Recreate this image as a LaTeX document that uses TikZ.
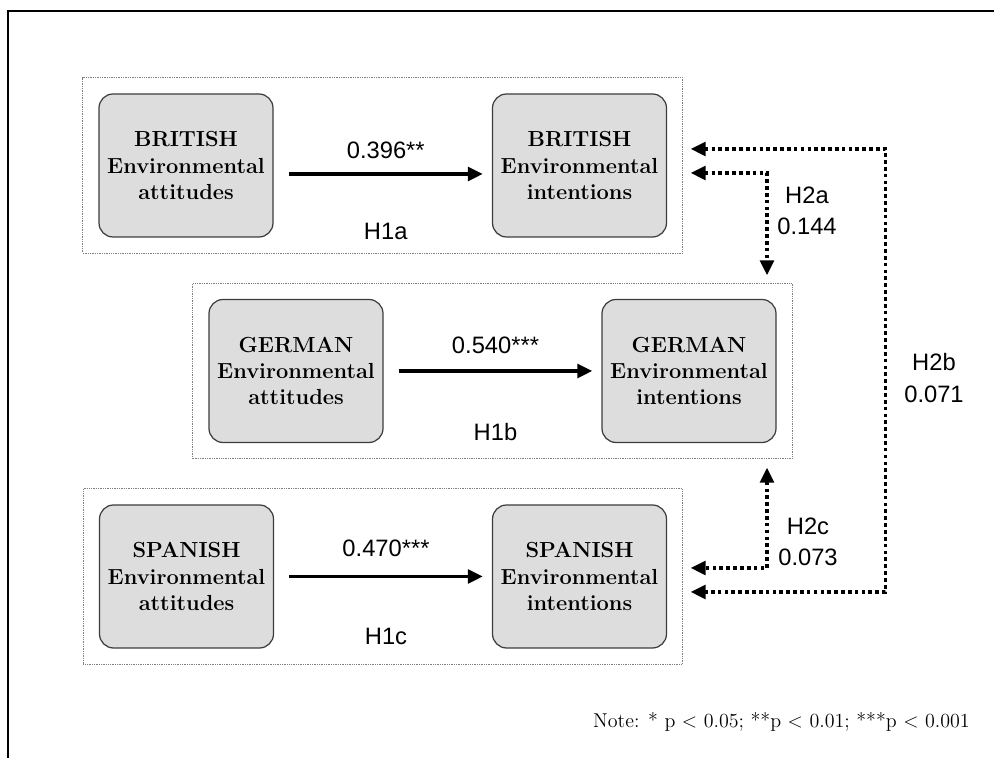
\documentclass[tikz,border=0pt]{standalone}
\usepackage{fontspec}
\newfontfamily\labelfont{Liberation Sans}
\usepackage{xcolor}
\definecolor{boxfill}{HTML}{DDDDDD}
\definecolor{boxline}{HTML}{3C3C3C}
\definecolor{grpline}{HTML}{7F7F7F}
\usetikzlibrary{arrows.meta,positioning,fit}
\tikzset{
  >={Triangle[length=3mm,width=2.7mm]},
  construct/.style={draw=boxline,fill=boxfill,rounded corners=8pt,line width=0.7pt,
                    minimum width=34.8mm,minimum height=28.6mm,align=center,
                    font=\fontsize{12.4}{15}\selectfont\bfseries},
  grp/.style    ={draw=grpline,line width=0.45pt,dash pattern=on 0.5pt off 0.5pt,
                  inner sep=3.1mm},
  effect/.style ={->,line width=2.2pt},
  corr/.style   ={<->,line width=2.1pt,dash pattern=on 2.1pt off 1.8pt},
  lbl/.style    ={font=\labelfont\fontsize{13.5}{18}\selectfont,align=center,inner sep=0pt},
}

\begin{document}
\begin{tikzpicture}[x=1cm,y=1cm]
\useasboundingbox (0,0) rectangle (19.88,15.16);
% frame
\draw[line width=1.5pt] (0.16,0) -- (0.16,14.94) -- (19.88,14.94);
% british
\node[construct] (bA) at (3.72,11.85) {BRITISH\\Environmental\\attitudes};
\node[construct] (bI) at (11.59,11.85) {BRITISH\\Environmental\\intentions};
\node[grp,fit=(bA)(bI)] (bGrp) {};
\draw[effect] ([xshift=3mm,yshift=-1.7mm]bA.east) -- ([xshift=-1.8mm,yshift=-1.7mm]bI.west)
  node[lbl,midway,yshift=4.8mm] (bEst) {0.396**}
  node[lbl,midway,yshift=-11.4mm] (bHyp) {H1a};
% german
\node[construct] (gA) at (5.92,7.74) {GERMAN\\Environmental\\attitudes};
\node[construct] (gI) at (13.78,7.74) {GERMAN\\Environmental\\intentions};
\node[grp,fit=(gA)(gI)] (gGrp) {};
\draw[effect] ([xshift=3mm]gA.east) -- ([xshift=-1.8mm]gI.west)
  node[lbl,midway,yshift=5.2mm] (gEst) {0.540***}
  node[lbl,midway,yshift=-12.2mm] (gHyp) {H1b};
% spanish
\node[construct] (sA) at (3.73,3.63) {SPANISH\\Environmental\\attitudes};
\node[construct] (sI) at (11.59,3.63) {SPANISH\\Environmental\\intentions};
\node[grp,fit=(sA)(sI)] (sGrp) {};
\draw[effect] ([xshift=3mm]sA.east) -- ([xshift=-1.8mm]sI.west)
  node[lbl,midway,yshift=5.6mm] (sEst) {0.470***}
  node[lbl,midway,yshift=-12mm] (sHyp) {H1c};
% between-country paths
\draw[corr] ([xshift=4.7mm,yshift=-1.5mm]bI.east) -| ([xshift=15.6mm,yshift=4.7mm]gI.north);
\draw[corr] ([xshift=15.6mm,yshift=-4.9mm]gI.south) |- ([xshift=4.7mm,yshift=1.7mm]sI.east);
\draw[corr] ([xshift=4.7mm,yshift=3.3mm]bI.east) -- ++(3.9,0) |- ([xshift=4.7mm,yshift=-3.1mm]sI.east);
\node[lbl] (h2aLbl) at (16.14,10.94) {H2a\\0.144};
\node[lbl] (h2bLbl) at (18.68,7.60) {H2b\\0.071};
\node[lbl] (h2cLbl) at (16.16,4.32) {H2c\\0.073};
% note
\node[anchor=east,font=\fontsize{11.4}{13}\selectfont] (note) at (19.52,0.72)
 {Note: * p < 0.05; **p < 0.01; ***p < 0.001};
\end{tikzpicture}
\end{document}
